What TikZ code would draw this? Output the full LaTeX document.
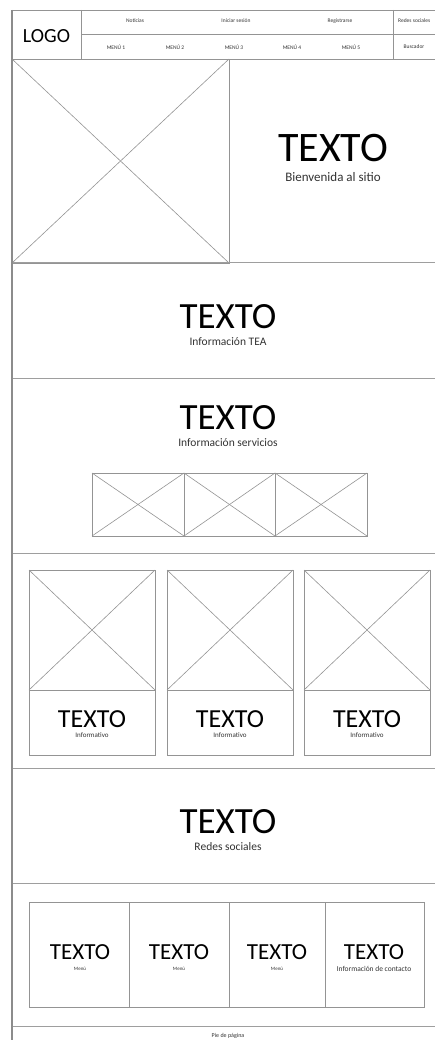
\documentclass[tikz,border=0pt]{standalone}
\usepackage{fontspec}
\setmainfont{Carlito}
\begin{document}
\begin{tikzpicture}[x=1pt,y=-1pt,
  ln/.style={draw=black!42, line width=0.6pt},
  sec/.style={draw=black!38, line width=1pt},
  edge/.style={draw=black!45, line width=1.1pt},
  hero/.style={font=\fontsize{42}{42}\selectfont, inner sep=0pt},
  big/.style={font=\fontsize{37}{37}\selectfont, inner sep=0pt},
  mid/.style={font=\fontsize{26}{26}\selectfont, inner sep=0pt},
  foot/.style={font=\fontsize{23}{23}\selectfont, inner sep=0pt},
  subl/.style={font=\fontsize{11.5}{11.5}\selectfont, inner sep=0pt, text=black!80},
  subh/.style={font=\fontsize{13}{13}\selectfont, inner sep=0pt, text=black!80},
  tiny/.style={font=\fontsize{7}{7}\selectfont, inner sep=0pt, text=black!80},
  tinym/.style={font=\fontsize{5}{5}\selectfont, inner sep=0pt, text=black!80},
  tinyc/.style={font=\fontsize{7.5}{7.5}\selectfont, inner sep=0pt, text=black!80},
  hdr/.style={font=\fontsize{5.5}{5.5}\selectfont, inner sep=0pt, text=black!80},
  logo/.style={font=\fontsize{20}{20}\selectfont, inner sep=0pt}
]
\useasboundingbox (0,0) rectangle (435,1040);
\clip (0,0) rectangle (435,1040);
\fill[white] (0,0) rectangle (435,1040);

% ---------- header ----------
\draw[ln] (12,10) -- (440,10);
\draw[ln] (81,34) -- (440,34);
\draw[ln] (12,59) -- (440,59);
\draw[ln] (81,10) -- (81,59);
\draw[ln] (393,10) -- (393,59);
\node[logo] (logo) at (46.5,36) {LOGO};
\node[hdr] (noticias) at (135,21) {Noticias};
\node[hdr] (iniciar) at (236,21) {Iniciar sesión};
\node[hdr] (registrarse) at (340,21) {Registrarse};
\node[hdr, anchor=west] (redes) at (398,21) {Redes sociales};
\node[hdr] (m1) at (116,47) {MENÚ 1};
\node[hdr] (m2) at (175,47) {MENÚ 2};
\node[hdr] (m3) at (234,47) {MENÚ 3};
\node[hdr] (m4) at (292,47) {MENÚ 4};
\node[hdr] (m5) at (351,47) {MENÚ 5};
\node[hdr] (buscador) at (414,47) {Buscador};

% ---------- hero ----------
\draw[ln] (12,59) rectangle (229,263);
\draw[ln] (12,59) -- (229,263);
\draw[ln] (12,263) -- (229,59);
\node[hero] (t1) at (333,148.5) {TEXTO};
\node[subh] (s1) at (333,177) {Bienvenida al sitio};

% ---------- section lines ----------
\foreach \yy in {263,378,553,768,883,1026}
  \draw[sec] (12,\yy) -- (440,\yy);

% ---------- TEA ----------
\node[big] (t2) at (228,317) {TEXTO};
\node[subl] (s2) at (228,341.5) {Información TEA};

% ---------- servicios ----------
\node[big] (t3) at (228,418) {TEXTO};
\node[subl] (s3) at (228,443) {Información servicios};
\foreach \xa/\xb in {92/184,184/275,275/367}{
  \draw[ln] (\xa,473) rectangle (\xb,536);
  \draw[ln] (\xa,473) -- (\xb,536);
  \draw[ln] (\xa,536) -- (\xb,473);
}

% ---------- cards ----------
\foreach \xa/\xb/\nm in {29/155/a,167/293/b,304/430/c}{
  \draw[ln] (\xa,570) rectangle (\xb,755);
  \draw[ln] (\xa,690) -- (\xb,690);
  \draw[ln] (\xa,570) -- (\xb,690);
  \draw[ln] (\xa,690) -- (\xb,570);
  \node[mid] (ct\nm) at ({(\xa+\xb)/2},719) {TEXTO};
  \node[tiny] (cs\nm) at ({(\xa+\xb)/2},735) {Informativo};
}

% ---------- redes ----------
\node[big] (t4) at (228,821.5) {TEXTO};
\node[subl] (s4) at (228,846.5) {Redes sociales};

% ---------- footer boxes ----------
\draw[ln] (29,902) rectangle (424,1007);
\foreach \xx in {129,229,325} \draw[ln] (\xx,902) -- (\xx,1007);
\node[foot] (f1) at (80,952) {TEXTO};
\node[foot] (f2) at (179,952) {TEXTO};
\node[foot] (f3) at (277,952) {TEXTO};
\node[foot] (f4) at (374,952) {TEXTO};
\node[tinym] (fs1) at (80,969) {Menú};
\node[tinym] (fs2) at (179,969) {Menú};
\node[tinym] (fs3) at (277,969) {Menú};
\node[tinyc] (fs4) at (374,969) {Información de contacto};

% ---------- pie ----------
\node[hdr, font=\fontsize{6}{6}\selectfont] (pie) at (228,1036) {Pie de página};

% ---------- left edge ----------
\draw[edge] (12,10) -- (12,1040);
\end{tikzpicture}
\end{document}
